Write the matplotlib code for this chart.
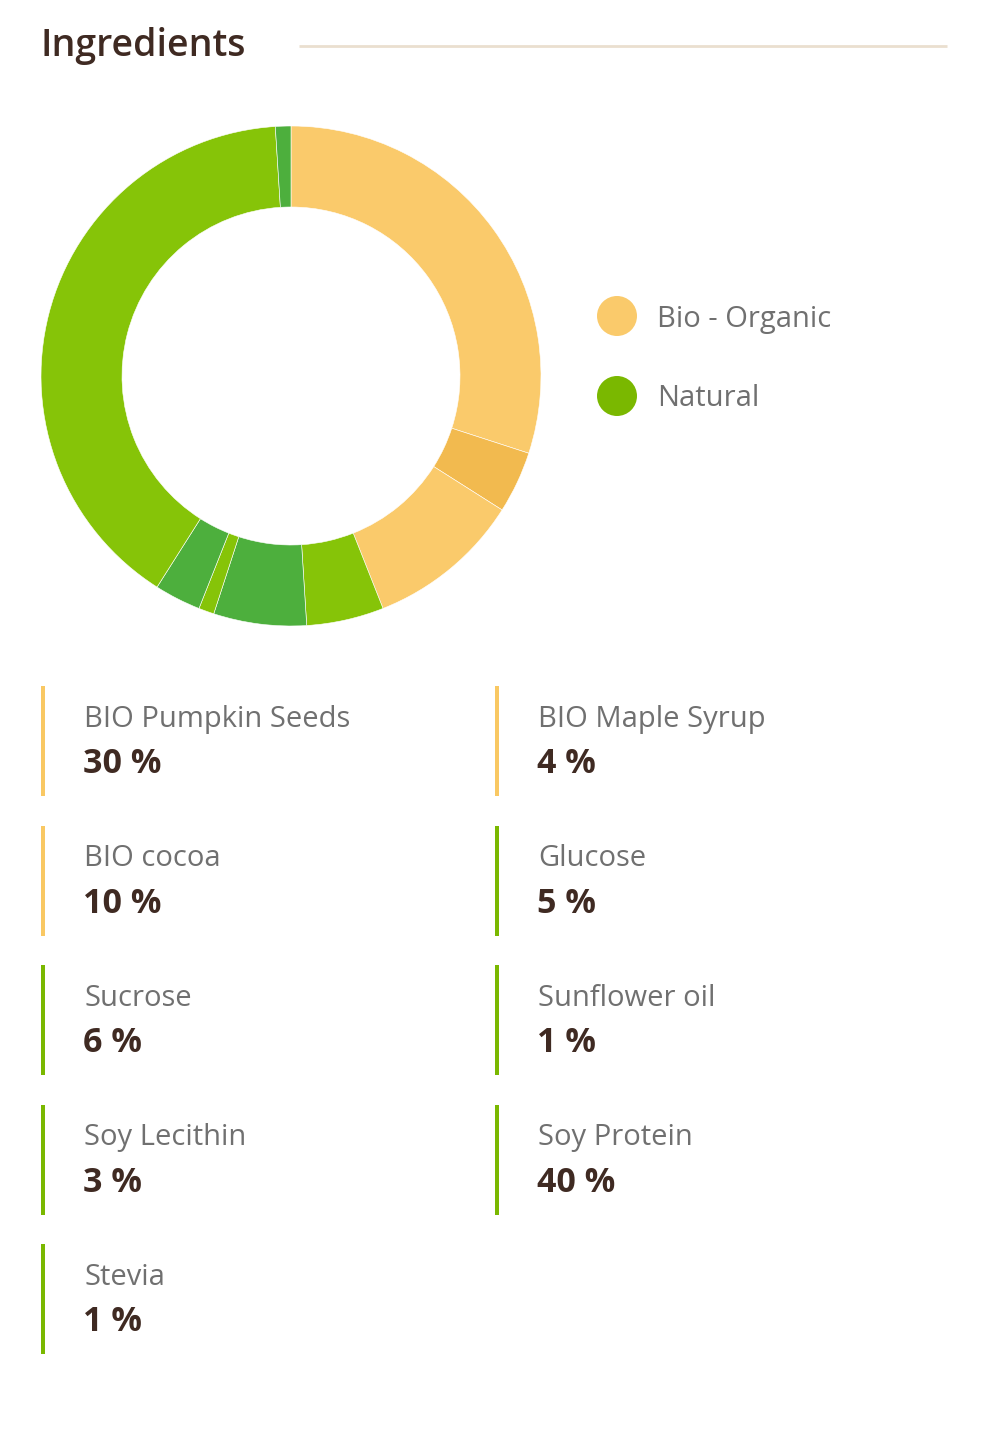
import matplotlib
matplotlib.use("Agg")
import matplotlib.pyplot as plt
from matplotlib.patches import Rectangle, Circle

# ---- data ----
ingredients = ["BIO Pumpkin Seeds", "BIO Maple Syrup", "BIO cocoa", "Glucose", "Sucrose",
               "Sunflower oil", "Soy Lecithin", "Soy Protein", "Stevia"]
percentages = [30, 4, 10, 5, 6, 1, 3, 40, 1]
groups = ["Bio - Organic", "Bio - Organic", "Bio - Organic", "Natural", "Natural",
          "Natural", "Natural", "Natural", "Natural"]
legend_labels = ["Bio - Organic", "Natural"]
title = "Ingredients"

# ---- styles ----
slice_colors = ["#FACA6B", "#F2BA4F", "#FACA6B", "#86C408", "#4DAF3D",
                "#86C408", "#4DAF3D", "#86C408", "#4DAF3D"]
group_colors = {"Bio - Organic": "#FACA6B", "Natural": "#7AB800"}
bar_colors = {"Bio - Organic": "#F9C863", "Natural": "#7AB800"}
DARK = "#3F2A22"
GRAY = "#707070"
FONT = ["Open Sans", "DejaVu Sans"]

W, H = 1008, 1454
fig = plt.figure(figsize=(W / 100, H / 100), dpi=100)
fig.patch.set_facecolor("white")

# overlay axes in pixel coordinates
bg = fig.add_axes([0, 0, 1, 1])
bg.set_xlim(0, W)
bg.set_ylim(H, 0)
bg.axis("off")

# title + rule
bg.text(40, 46, title, fontsize=27, fontweight="semibold", color=DARK,
        family=FONT, va="center", ha="left")
bg.plot([299, 947], [46, 46], color="#EADFCF", lw=2, solid_capstyle="butt")

# donut
cx, cy, R = 291, 376, 250
pax = fig.add_axes([(cx - R) / W, 1 - (cy + R) / H, 2 * R / W, 2 * R / H])
pax.pie(percentages, colors=slice_colors, startangle=90, counterclock=False,
        radius=1.0, wedgeprops=dict(width=81 / 250, edgecolor="white", linewidth=0.4))
pax.set_xlim(-1, 1)
pax.set_ylim(-1, 1)
pax.set_aspect("equal")
pax.axis("off")

# legend
for i, lab in enumerate(legend_labels):
    y = 316 + i * 80
    bg.add_patch(Circle((617, y), 20, color=group_colors[lab], ec="none"))
    bg.text(657, y + 3, lab, fontsize=21, color=GRAY, family=FONT, va="center", ha="left")

# ingredient list
col_x = [41, 495]
row_y0, row_dy = 686, 139.6
for i, (name, pct, grp) in enumerate(zip(ingredients, percentages, groups)):
    r, c = divmod(i, 2)
    x0 = col_x[c]
    y0 = row_y0 + r * row_dy
    bg.add_patch(Rectangle((x0, y0), 3.5, 110, color=bar_colors[grp], ec="none"))
    bg.text(x0 + 43, y0 + 33, name, fontsize=21, color=GRAY, family=FONT,
            va="center", ha="left")
    bg.text(x0 + 42, y0 + 78, f"{pct} %", fontsize=24.5, fontweight="bold", color=DARK,
            family=FONT, va="center", ha="left")

fig.savefig("out.png", dpi=100, facecolor="white")
